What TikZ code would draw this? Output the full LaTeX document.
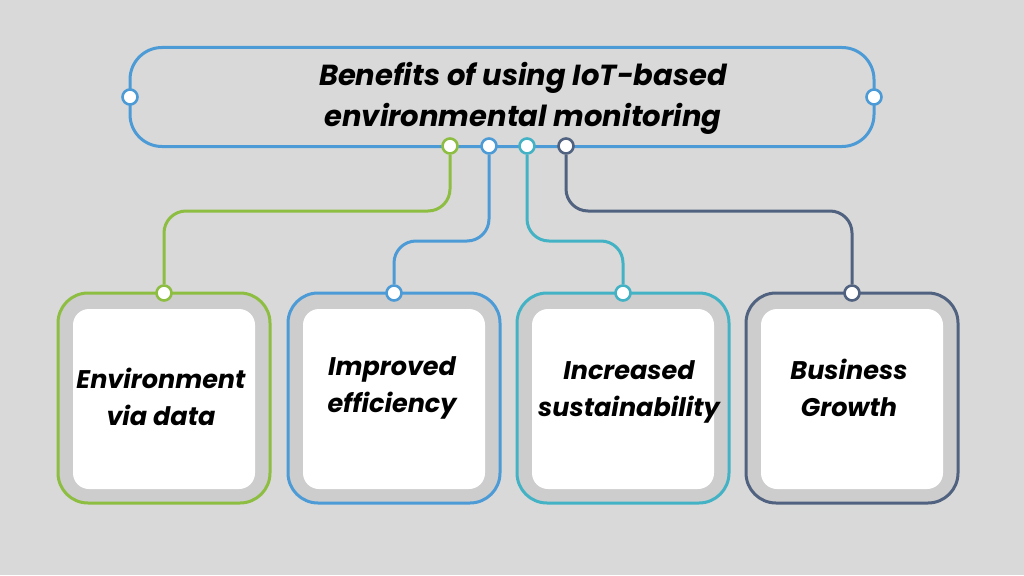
\documentclass[tikz,border=0pt]{standalone}
\usepackage{fontspec}
\newfontfamily\pop{Poppins}
\pgfdeclarelayer{bg}
\pgfsetlayers{bg,main}
\definecolor{bgc}{RGB}{217,217,217}
\definecolor{band}{RGB}{205,205,205}
\definecolor{cgreen}{RGB}{141,190,66}
\definecolor{cblue}{RGB}{76,155,214}
\definecolor{cteal}{RGB}{66,178,196}
\definecolor{cdark}{RGB}{80,98,128}
\tikzset{
  dot/.style={circle,draw=#1,fill=white,line width=2.6pt,minimum size=15pt,inner sep=0pt},
  outerbox/.style={draw=#1,fill=band,line width=3pt,rounded corners=30pt,minimum width=212pt,minimum height=210pt,inner sep=0pt},
  innerbox/.style={fill=white,rounded corners=16pt,minimum width=182pt,minimum height=180pt,inner sep=0pt},
  lbl/.style={font=\pop\bfseries\itshape\fontsize{25.5}{37}\selectfont,align=center,text=black},
  conn/.style={draw=#1,line width=3pt,rounded corners=22pt},
}
\begin{document}
\begin{tikzpicture}[x=1pt,y=-1pt]
\begin{pgfonlayer}{bg}
\fill[bgc] (0,0) rectangle (1024,575);
\end{pgfonlayer}
\useasboundingbox (0,0) rectangle (1024,575);
% title
\node[draw=cblue,line width=3pt,rounded corners=32pt,minimum width=744pt,minimum height=99pt,inner sep=0pt] (title) at (502,97) {};
\node[font=\pop\bfseries\itshape\fontsize{29}{41}\selectfont,align=center] (ttext) at (523,98) {Benefits of using IoT-based\\environmental monitoring};
\node[dot=cblue] (tl) at (130,97) {};
\node[dot=cblue] (tr) at (874,97) {};
\node[dot=cgreen] (t1) at (450,146) {};
\node[dot=cblue] (t2) at (489,146) {};
\node[dot=cteal] (t3) at (527,146) {};
\node[dot=cdark] (t4) at (566,146) {};
% boxes
\node[outerbox=cgreen] (o1) at (164,398) {};
\node[outerbox=cblue] (o2) at (394,398) {};
\node[outerbox=cteal] (o3) at (623,398) {};
\node[outerbox=cdark] (o4) at (852,398) {};
\node[innerbox] (i1) at (164,399) {};
\node[innerbox] (i2) at (394,399) {};
\node[innerbox] (i3) at (623,399) {};
\node[innerbox] (i4) at (852,399) {};
\node[lbl] (l1) at (161,397) {Environment\\via data};
\node[lbl] (l2) at (392,388) {Improved\\efficiency};
\node[lbl] (l3) at (629,392) {Increased\\sustainability};
\node[lbl] (l4) at (849,388) {Business\\Growth};
\node[dot=cgreen] (b1) at (164,293) {};
\node[dot=cblue] (b2) at (394,293) {};
\node[dot=cteal] (b3) at (623,293) {};
\node[dot=cdark] (b4) at (852,293) {};
% connectors
\coordinate (h1) at (0,211);
\coordinate (h2) at (0,241);
\begin{pgfonlayer}{bg}
\draw[conn=cgreen] (t1) -- (t1 |- h1) -- (b1 |- h1) -- (b1);
\draw[conn=cblue] (t2) -- (t2 |- h2) -- (b2 |- h2) -- (b2);
\draw[conn=cteal] (t3) -- (t3 |- h2) -- (b3 |- h2) -- (b3);
\draw[conn=cdark] (t4) -- (t4 |- h1) -- (b4 |- h1) -- (b4);
\end{pgfonlayer}
\end{tikzpicture}
\end{document}
